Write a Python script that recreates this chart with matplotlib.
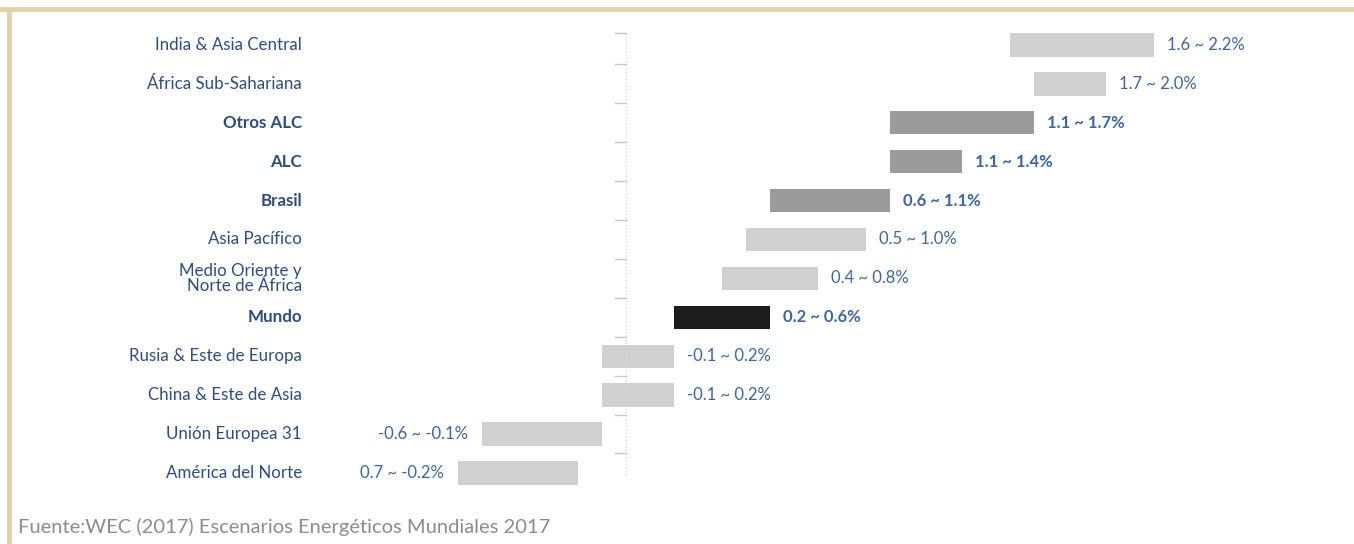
import matplotlib.pyplot as plt
from matplotlib.lines import Line2D

regions = ["India & Asia Central", "África Sub-Sahariana", "Otros ALC", "ALC", "Brasil",
           "Asia Pacífico", "Medio Oriente y\nNorte de África", "Mundo",
           "Rusia & Este de Europa", "China & Este de Asia", "Unión Europea 31",
           "América del Norte"]
low = [1.6, 1.7, 1.1, 1.1, 0.6, 0.5, 0.4, 0.2, -0.1, -0.1, -0.6, -0.7]
high = [2.2, 2.0, 1.7, 1.4, 1.1, 1.0, 0.8, 0.6, 0.2, 0.2, -0.1, -0.2]
value_labels = ["1.6 ~ 2.2%", "1.7 ~ 2.0%", "1.1 ~ 1.7%", "1.1 ~ 1.4%", "0.6 ~ 1.1%",
                "0.5 ~ 1.0%", "0.4 ~ 0.8%", "0.2 ~ 0.6%", "-0.1 ~ 0.2%", "-0.1 ~ 0.2%",
                "-0.6 ~ -0.1%", "0.7 ~ -0.2%"]
group = ["otro", "otro", "alc", "alc", "alc", "otro", "otro", "mundo",
         "otro", "otro", "otro", "otro"]

colors = {"otro": "#d0d0d0", "alc": "#9b9b9b", "mundo": "#1c1c1c"}
label_blue = "#2c4c82"
value_blue = "#3b65a3"

fig = plt.figure(figsize=(13.54, 5.44), dpi=100)
ax = fig.add_axes([0, 0, 1, 1])

# pixel mapping: zero at x=626, ~240 px per unit; rows start at y=45, ~38.9 px apart
ax.set_xlim(-626 / 240, (1354 - 626) / 240)
ax.set_ylim((544 - 45) / 38.9, -45 / 38.9)
ax.axis("off")

y = list(range(len(regions)))
widths = [h - l for l, h in zip(low, high)]
ax.barh(y, widths, left=low, height=0.6,
        color=[colors[g] for g in group], edgecolor="none")

# axis line with small ticks on the left
ax.plot([0, 0], [-0.3, 11.1], color="#d8d8d8", lw=1, ls=(0, (1, 1.5)))
ticks = [-0.3] + [i + 0.5 for i in range(len(regions) - 1)]
for t in ticks:
    ax.plot([-0.045, 0], [t, t], color="#c8c8c8", lw=1)

for i, name in enumerate(regions):
    bold = group[i] != "otro"
    ax.text(-1.35, i, name, ha="right", va="center", fontsize=12.2,
            family="Lato", fontweight="bold" if bold else "normal",
            color=label_blue, linespacing=0.9)
    if high[i] < 0:
        ax.text(low[i] - 0.06, i, value_labels[i], ha="right", va="center",
                fontsize=12, family="Lato", color=value_blue)
    else:
        ax.text(high[i] + 0.055, i, value_labels[i], ha="left", va="center",
                fontsize=12, family="Lato",
                fontweight="bold" if bold else "normal", color=value_blue)

# tan frame on top and left
fig.add_artist(Line2D([0, 1], [1 - 9 / 544, 1 - 9 / 544], color="#e3d2a6", lw=3.5,
                      transform=fig.transFigure))
fig.add_artist(Line2D([9 / 1354, 9 / 1354], [0, 1 - 9 / 544], color="#e3d2a6", lw=3.5,
                      transform=fig.transFigure))

fig.text(18 / 1354, 1 - 527 / 544, "Fuente:WEC (2017) Escenarios Energéticos Mundiales 2017",
         ha="left", va="center", fontsize=14.5, family="Lato", fontweight="normal",
         color="#8c8c8c")

plt.savefig("out.png", dpi=100)
plt.close()
